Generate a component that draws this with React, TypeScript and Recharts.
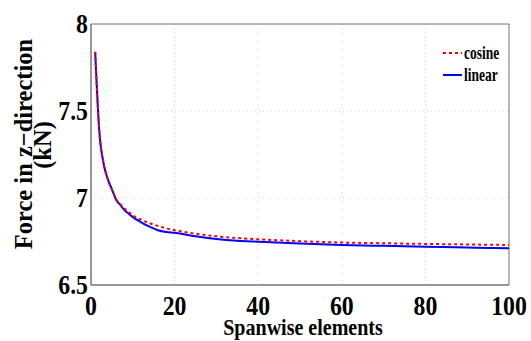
import { CartesianGrid, Legend, Line, LineChart, ReferenceArea, XAxis, YAxis } from 'recharts'

const elements = [1, 2, 3, 4, 5, 6, 7, 8, 9, 10, 12, 14, 16, 18, 20, 25, 30, 35, 40, 50, 60, 70, 80, 90, 100]
const cosineForce = [
  7.84, 7.38, 7.2, 7.11, 7.05, 6.995, 6.965, 6.94, 6.92, 6.9, 6.875, 6.855, 6.84, 6.825, 6.815, 6.795, 6.78,
  6.77, 6.763, 6.752, 6.744, 6.74, 6.736, 6.733, 6.73,
]
const linearForce = [
  7.84, 7.38, 7.2, 7.11, 7.05, 6.99, 6.96, 6.93, 6.91, 6.89, 6.86, 6.835, 6.815, 6.805, 6.8, 6.78, 6.765,
  6.755, 6.749, 6.738, 6.73, 6.725, 6.72, 6.715, 6.711,
]
const xTicks = [0, 20, 40, 60, 80, 100]
const yTicks = [6.5, 7, 7.5, 8]

const FONT = '"Liberation Serif", "Times New Roman", serif'
const TICK_SQUEEZE = 0.88
const textStyle = { fontFamily: FONT, fontWeight: 'bold' as const }

const data = elements.map((x, i) => ({ x, cosine: cosineForce[i], linear: linearForce[i] }))

function YTick({ x, y, payload }: any) {
  return (
    <text
      transform={`translate(${x},${y}) scale(${TICK_SQUEEZE},1)`}
      textAnchor="end"
      dy="0.34em"
      style={{ ...textStyle, fontSize: 27 }}
      fill="#000"
    >
      {payload.value}
    </text>
  )
}

function XTick({ x, y, payload }: any) {
  return (
    <text
      transform={`translate(${x},${y}) scale(${TICK_SQUEEZE},1)`}
      textAnchor="middle"
      dy={30}
      style={{ ...textStyle, fontSize: 27 }}
      fill="#000"
    >
      {payload.value}
    </text>
  )
}

function LegendBox() {
  const rows = [
    { name: 'cosine', color: '#ff0000', dash: '3 3' },
    { name: 'linear', color: '#0000ff', dash: undefined },
  ]
  return (
    <div style={{ ...textStyle, fontSize: 18, lineHeight: '22px' }}>
      {rows.map((r) => (
        <div key={r.name} style={{ display: 'flex', alignItems: 'center', height: 22 }}>
          <svg width={19} height={10}>
            <line x1={0} x2={19} y1={5} y2={5} stroke={r.color} strokeWidth={2} strokeDasharray={r.dash} />
          </svg>
          <span style={{ display: 'inline-block', transform: 'scaleX(0.75)', transformOrigin: 'left', marginLeft: 2 }}>
            {r.name}
          </span>
        </div>
      ))}
    </div>
  )
}

export default function App() {
  return (
    <div style={{ position: 'absolute', left: 0, top: 0 }}>
      <LineChart width={531} height={341} data={data} margin={{ top: 24, right: 22, bottom: 0, left: 0 }}>
        <CartesianGrid stroke="#d4d4d4" strokeDasharray="1 3" />
        <XAxis
          dataKey="x"
          type="number"
          domain={[0, 100]}
          ticks={xTicks}
          height={56}
          tickLine={false}
          tickSize={0}
          tickMargin={0}
          axisLine={{ stroke: '#777' }}
          tick={<XTick />}
          label={{
            content: () => (
              <text transform="translate(303,335) scale(0.89,1)" textAnchor="middle" style={{ ...textStyle, fontSize: 22.5 }}>
                Spanwise elements
              </text>
            ),
          }}
        />
        <YAxis
          type="number"
          domain={[6.5, 8]}
          ticks={yTicks}
          width={91}
          tickLine={false}
          tickSize={0}
          tickMargin={3}
          axisLine={{ stroke: '#777' }}
          tick={<YTick />}
          label={{
            content: () => (
              <g style={{ ...textStyle, fontSize: 24.5 }}>
                <text transform="translate(32,144) rotate(-90)" textAnchor="middle">
                  Force in z−direction
                </text>
                <text transform="translate(51,145) rotate(-90)" textAnchor="middle">
                  (kN)
                </text>
              </g>
            ),
          }}
        />
        <ReferenceArea x1={0} x2={100} y1={6.5} y2={8} fill="none" stroke="#777" strokeWidth={1} />
        <Line
          dataKey="linear"
          name="linear"
          type="monotone"
          stroke="#0000ff"
          strokeWidth={2}
          dot={false}
          isAnimationActive={false}
        />
        <Line
          dataKey="cosine"
          name="cosine"
          type="monotone"
          stroke="#ff0000"
          strokeWidth={2}
          strokeDasharray="3 3"
          dot={false}
          isAnimationActive={false}
        />
        <Legend
          layout="vertical"
          align="center"
          verticalAlign="middle"
          content={<LegendBox />}
          wrapperStyle={{ top: 42, left: 443, width: 80 }}
        />
      </LineChart>
    </div>
  )
}
